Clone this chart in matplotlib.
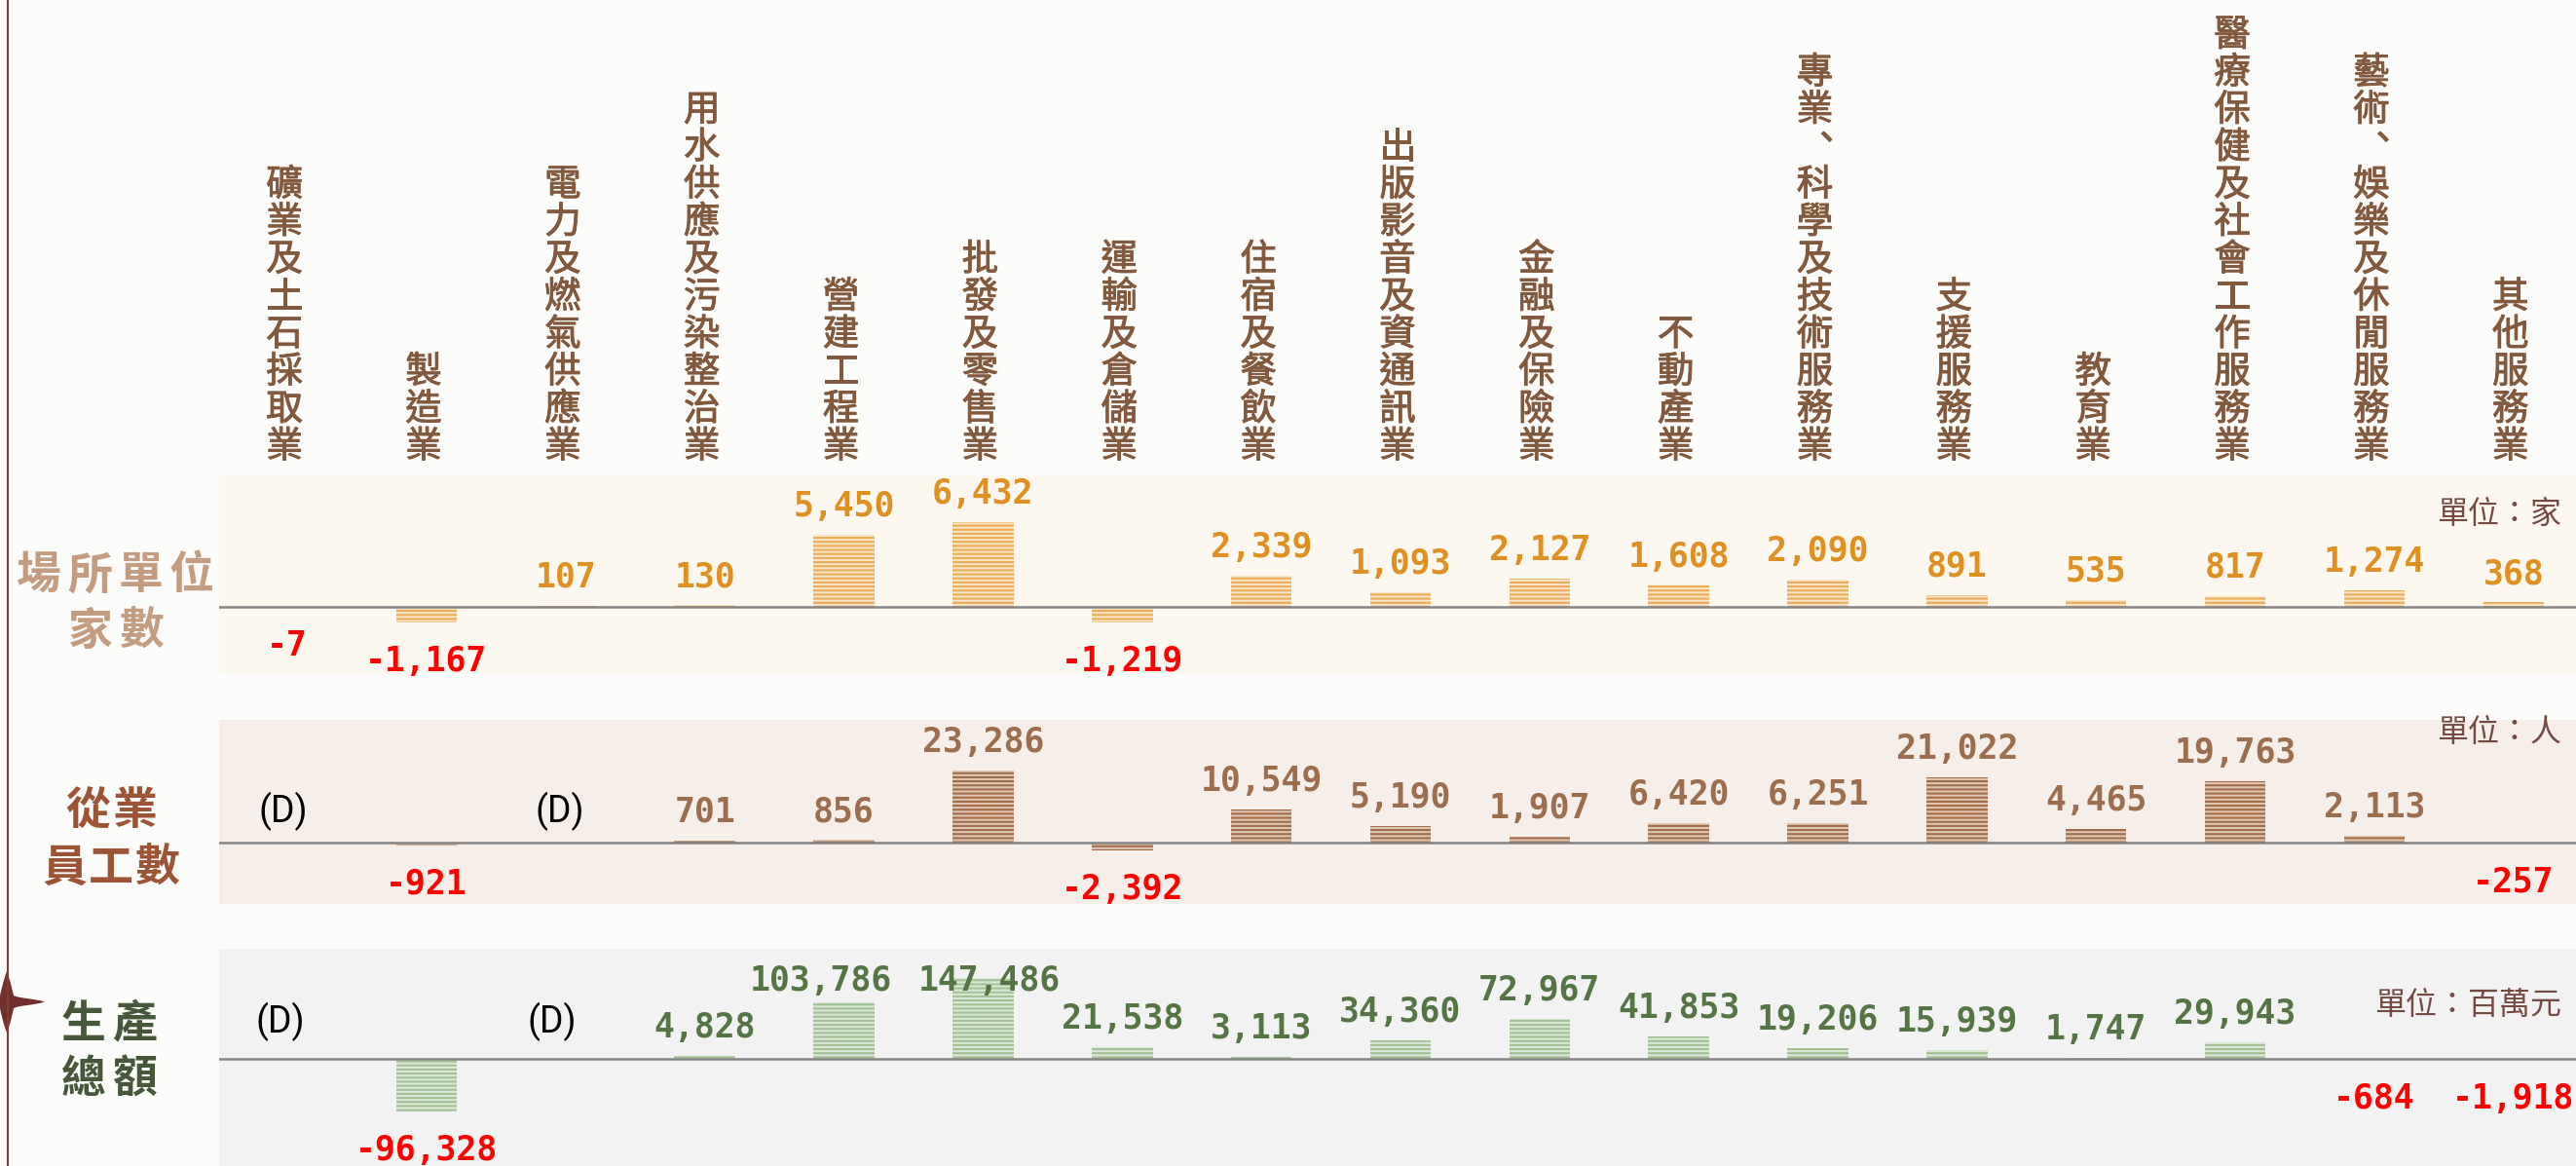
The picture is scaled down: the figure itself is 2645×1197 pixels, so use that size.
import matplotlib
matplotlib.use("Agg")
import matplotlib.pyplot as plt
import matplotlib.patheffects as pe
from matplotlib.path import Path
from matplotlib.patches import PathPatch

plt.rcParams["font.family"] = ["Noto Sans CJK TC", "DejaVu Sans"]
plt.rcParams["hatch.linewidth"] = 1.5

W, H = 2645, 1197

industries = ["礦業及土石採取業", "製造業", "電力及燃氣供應業", "用水供應及污染整治業", "營建工程業",
              "批發及零售業", "運輸及倉儲業", "住宿及餐飲業", "出版影音及資通訊業", "金融及保險業",
              "不動產業", "專業、科學及技術服務業", "支援服務業", "教育業", "醫療保健及社會工作服務業",
              "藝術、娛樂及休閒服務業", "其他服務業"]

establishments = [-7, -1167, 107, 130, 5450, 6432, -1219, 2339, 1093, 2127, 1608, 2090, 891, 535, 817, 1274, 368]
employees = [None, -921, None, 701, 856, 23286, -2392, 10549, 5190, 1907, 6420, 6251, 21022, 4465, 19763, 2113, -257]
output = [None, -96328, None, 4828, 103786, 147486, 21538, 3113, 34360, 72967, 41853, 19206, 15939, 1747, 29943, -684, -1918]

X0, STEP = 295.15, 142.85
BAR_W = 62.5 / STEP
DIGIT_H = 25


def px(p):
    return p / 100 * 72


fig = plt.figure(figsize=(26.45, 11.97), dpi=100, facecolor="#FCFCFA")


def panel(values, top, bottom, base, scale, bg, fill, stripe, txt, d_pos, shifts=None):
    ax = fig.add_axes([225 / W, 1 - bottom / H, (W - 225) / W, (bottom - top) / H])
    ax.set_xlim((225 - X0) / STEP, (W - X0) / STEP)
    ax.set_ylim(-(bottom - base) / scale, (base - top) / scale)
    ax.axis("off")
    ax.add_artist(plt.Rectangle((0, 0), 1, 1, transform=ax.transAxes, color=bg, zorder=0))
    shifts = shifts or {}
    for i, v in enumerate(values):
        if v is None:
            dx, dy = d_pos[i]
            ax.annotate("(D)", (i, 0), xytext=(px(dx), px(dy)), textcoords="offset points", ha="center",
                        va="baseline", fontsize=27, color="black", family="Roboto", zorder=5)
            continue
        ax.bar(i, v, width=BAR_W, facecolor=fill, edgecolor=stripe, hatch="----", linewidth=0, zorder=2)
        dx, gap = shifts.get(i, (0, 19))
        if v < 0:
            off, col = -(25 + DIGIT_H), "#FF0000"
        else:
            off, col = gap, txt
        ax.annotate(f"{v:,}", (i, v), xytext=(px(dx), px(off)), textcoords="offset points", ha="center",
                    va="baseline", fontsize=25, fontweight="bold", family="DejaVu Sans Mono", color=col,
                    annotation_clip=False, zorder=6)
    ax.axhline(0, color="#858585", lw=1.8, zorder=4)
    return ax


panel(establishments, 488, 691, 623, 0.01353, "#FCF8EF", "#F8E4C6", "#EBAB57", "#DF9021", {})
panel(employees, 739, 928, 865, 0.00319, "#F5EEE9", "#DFC6B4", "#A36C47", "#9C6E4D",
      {0: (-4, 21), 2: (-6, 21)})
panel(output, 974, H, 1087, 0.00056, "#F2F2F2", "#DCE8D6", "#A2C194", "#557644",
      {0: (-7, 27), 2: (-14, 27)}, shifts={4: (-24, 12), 5: (6, -13)})

# overlay in pixel coordinates for the free text
ov = fig.add_axes([0, 0, 1, 1], zorder=10)
ov.set_xlim(0, W)
ov.set_ylim(H, 0)
ov.axis("off")
ov.patch.set_alpha(0)

ov.plot([8, 8], [0, H], color="#7B3F38", lw=1.5, solid_capstyle="butt")
star = Path([(7, 997), (11, 1008), (13, 1018), (14, 1022), (20, 1025), (35, 1025), (46, 1028.5),
             (35, 1032), (20, 1032), (14, 1035), (13, 1040), (11, 1050), (7, 1060),
             (3, 1050), (1, 1040), (0, 1035), (-6, 1032), (-6, 1025), (0, 1022),
             (1, 1018), (3, 1008), (7, 997), (7, 997)],
            [Path.MOVETO] + [Path.CURVE4] * 21 + [Path.CLOSEPOLY])
ov.add_patch(PathPatch(star, facecolor="#73302B", edgecolor="none"))


def spaced(s, cx, cy, pitch, **kw):
    for k, ch in enumerate(s):
        ov.text(cx + (k - (len(s) - 1) / 2) * pitch, cy, ch, ha="center", va="center", **kw)


# regular weight with a thin stroke comes closest to the medium weight of the column names
col_kw = dict(ha="center", va="center", fontsize=27, color="#82593D",
              path_effects=[pe.withStroke(linewidth=0.7, foreground="#82593D")])
for i, name in enumerate(industries):
    x = X0 + STEP * i - 3
    for k, ch in enumerate(reversed(name)):
        y = 459 - 38.4 * k
        if ch == "、":
            ov.text(x + 12, y - 8, ch, **col_kw)
        else:
            ov.text(x, y, ch, **col_kw)

title_kw = dict(fontsize=33, fontweight="bold")
spaced("場所單位", 118, 591, 52.6, color="#C49C80", **title_kw)
spaced("家數", 119.5, 649, 52.6, color="#C49C80", **title_kw)
spaced("從業", 114, 833, 48, color="#9C5434", **title_kw)
spaced("員工數", 114, 892, 48, color="#9C5434", **title_kw)
spaced("生產", 112, 1052, 52, color="#47583A", **title_kw)
spaced("總額", 112, 1109, 52, color="#47583A", **title_kw)

unit_kw = dict(ha="right", va="center", fontsize=23, color="#754A42")
ov.text(2630, 528, "單位：家", **unit_kw)
ov.text(2630, 752, "單位：人", **unit_kw)
ov.text(2630, 1032, "單位：百萬元", **unit_kw)

fig.savefig("out.png", dpi=100, facecolor=fig.get_facecolor())
